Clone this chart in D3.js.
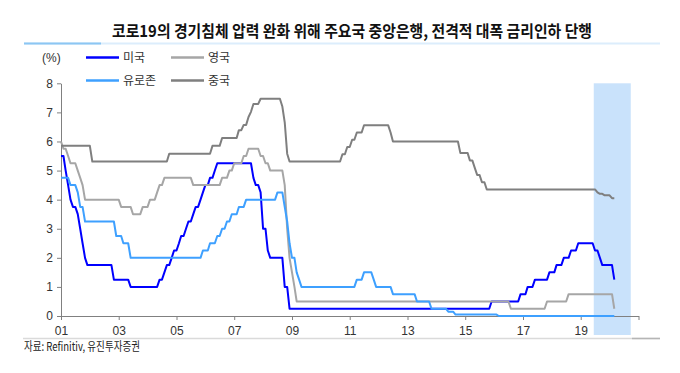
<!DOCTYPE html>
<html>
<head>
<meta charset="utf-8">
<script src="https://cdn.jsdelivr.net/npm/d3@7"></script>
<style>
    body { margin: 0; background: #fff; }
    svg { display: block; }
    .axis text { font-family: "Liberation Sans", Arial, sans-serif; font-size: 12px; fill: #333; }
    .axis path, .axis line { stroke: #808080; }
    .kr { font-family: "Noto Sans CJK KR", sans-serif; }
</style>
</head>
<body>
<svg id="chart"></svg>
<script>
const width = 680;
const height = 373;

// policy rates, [month the new rate shows, rate %]
const usRate = [
    ["2001-01", 5.5], ["2001-03", 5.0], ["2001-04", 4.5], ["2001-05", 4.0], ["2001-06", 3.75],
    ["2001-08", 3.5], ["2001-09", 3.0], ["2001-10", 2.5], ["2001-11", 2.0], ["2001-12", 1.75],
    ["2002-11", 1.25], ["2003-06", 1.0], ["2004-06", 1.25], ["2004-08", 1.5], ["2004-09", 1.75],
    ["2004-11", 2.0], ["2004-12", 2.25], ["2005-02", 2.5], ["2005-03", 2.75], ["2005-05", 3.0],
    ["2005-06", 3.25], ["2005-08", 3.5], ["2005-09", 3.75], ["2005-11", 4.0], ["2005-12", 4.25],
    ["2006-01", 4.5], ["2006-03", 4.75], ["2006-05", 5.0], ["2006-06", 5.25], ["2007-09", 4.75],
    ["2007-10", 4.5], ["2007-12", 4.25], ["2008-01", 3.0], ["2008-03", 2.25], ["2008-04", 2.0],
    ["2008-10", 1.0], ["2008-12", 0.25], ["2015-12", 0.5], ["2016-12", 0.75], ["2017-03", 1.0],
    ["2017-06", 1.25], ["2017-12", 1.5], ["2018-03", 1.75], ["2018-06", 2.0], ["2018-09", 2.25],
    ["2018-12", 2.5], ["2019-07", 2.25], ["2019-09", 2.0], ["2019-10", 1.75], ["2020-03", 1.25]
];
const ukRate = [
    ["2001-01", 6.0], ["2001-02", 5.75], ["2001-04", 5.5], ["2001-05", 5.25], ["2001-08", 5.0],
    ["2001-09", 4.75], ["2001-10", 4.5], ["2001-11", 4.0], ["2003-02", 3.75], ["2003-07", 3.5],
    ["2003-11", 3.75], ["2004-02", 4.0], ["2004-05", 4.25], ["2004-06", 4.5], ["2004-08", 4.75],
    ["2005-08", 4.5], ["2006-08", 4.75], ["2006-11", 5.0], ["2007-01", 5.25], ["2007-05", 5.5],
    ["2007-07", 5.75], ["2007-12", 5.5], ["2008-02", 5.25], ["2008-04", 5.0], ["2008-10", 4.5],
    ["2008-11", 3.0], ["2008-12", 2.0], ["2009-01", 1.5], ["2009-02", 1.0], ["2009-03", 0.5],
    ["2016-08", 0.25], ["2017-11", 0.5], ["2018-08", 0.75], ["2020-03", 0.25]
];
const euroRate = [
    ["2001-01", 4.75], ["2001-05", 4.5], ["2001-08", 4.25], ["2001-09", 3.75], ["2001-11", 3.25],
    ["2002-12", 2.75], ["2003-03", 2.5], ["2003-06", 2.0], ["2005-12", 2.25], ["2006-03", 2.5],
    ["2006-06", 2.75], ["2006-08", 3.0], ["2006-10", 3.25], ["2006-12", 3.5], ["2007-03", 3.75],
    ["2007-06", 4.0], ["2008-07", 4.25], ["2008-10", 3.75], ["2008-11", 3.25], ["2008-12", 2.5],
    ["2009-01", 2.0], ["2009-03", 1.5], ["2009-04", 1.25], ["2009-05", 1.0], ["2011-04", 1.25],
    ["2011-07", 1.5], ["2011-11", 1.25], ["2011-12", 1.0], ["2012-07", 0.75], ["2013-05", 0.5],
    ["2013-11", 0.25], ["2014-06", 0.15], ["2014-09", 0.05], ["2016-03", 0.0]
];
const chinaRate = [
    ["2001-01", 5.85], ["2002-02", 5.31], ["2004-10", 5.58], ["2006-04", 5.85], ["2006-08", 6.12],
    ["2007-03", 6.39], ["2007-05", 6.57], ["2007-07", 6.84], ["2007-08", 7.02], ["2007-09", 7.29],
    ["2007-12", 7.47], ["2008-09", 7.2], ["2008-10", 6.66], ["2008-11", 5.58], ["2008-12", 5.31],
    ["2010-10", 5.56], ["2010-12", 5.81], ["2011-02", 6.06], ["2011-04", 6.31], ["2011-07", 6.56],
    ["2012-06", 6.31], ["2012-07", 6.0], ["2014-11", 5.6], ["2015-03", 5.35], ["2015-05", 5.1],
    ["2015-06", 4.85], ["2015-08", 4.6], ["2015-10", 4.35], ["2019-08", 4.25], ["2019-09", 4.2],
    ["2019-11", 4.15], ["2020-02", 4.05]
];
const lastMonth = "2020-03";
const highlight = ["2019-06-15", "2020-09-25"];

const seriesNames = ["미국", "영국", "유로존", "중국"];
const seriesColors = ["#0000ff", "#a6a6a6", "#3ea0ff", "#7f7f7f"];
const yTicks = [0, 1, 2, 3, 4, 5, 6, 7, 8];
const xTickYears = [2001, 2003, 2005, 2007, 2009, 2011, 2013, 2015, 2017, 2019, 2021];

const title = "코로19의 경기침체 압력 완화 위해 주요국 중앙은행, 전격적 대폭 금리인하 단행";
const source = "자료: Refinitiv, 유진투자증권";

const parseMonth = d3.timeParse("%Y-%m");
const parseDay = d3.timeParse("%Y-%m-%d");

const svg = d3.select("#chart")
    .attr("width", width)
    .attr("height", height);

const x = d3.scaleTime()
    .domain([new Date(2001, 0, 1), new Date(2021, 0, 1)])
    .range([61, 638.5]);

const y = d3.scaleLinear()
    .domain([0, 8])
    .range([316, 83.3]);

// title + rule under it
svg.append("text")
    .attr("class", "kr")
    .attr("x", 112)
    .attr("y", 37)
    .attr("textLength", 480)
    .attr("lengthAdjust", "spacingAndGlyphs")
    .style("font-size", "16px")
    .style("font-weight", "bold")
    .style("fill", "#111")
    .text(title);

svg.append("line")
    .attr("x1", 24).attr("x2", 660)
    .attr("y1", 43.5).attr("y2", 43.5)
    .attr("stroke", "#dcedfc")
    .attr("stroke-width", 2);
svg.append("line")
    .attr("x1", 24).attr("x2", 101)
    .attr("y1", 43.5).attr("y2", 43.5)
    .attr("stroke", "#8cc6f3")
    .attr("stroke-width", 2);

// shaded period
svg.append("rect")
    .attr("x", x(parseDay(highlight[0])))
    .attr("y", y(8))
    .attr("width", x(parseDay(highlight[1])) - x(parseDay(highlight[0])))
    .attr("height", 335 - y(8))
    .attr("fill", "#c9e2fb");

// axes
svg.append("g")
    .attr("class", "axis")
    .attr("transform", `translate(${x.range()[0]},0)`)
    .call(d3.axisLeft(y).tickValues(yTicks).tickSize(4).tickSizeOuter(0).tickPadding(4));

const yearFmt = d3.timeFormat("%y");
svg.append("g")
    .attr("class", "axis")
    .attr("transform", `translate(0,${y(0)})`)
    .call(d3.axisBottom(x)
        .tickValues(xTickYears.map(yr => new Date(yr, 0, 1)))
        .tickFormat(d => d.getFullYear() < 2021 ? yearFmt(d) : "")
        .tickSize(4)
        .tickSizeOuter(0)
        .tickPadding(6));

// monthly points: old rate held until the month before, new rate at its month
function stepPoints(series) {
    const pts = [];
    series.forEach(([m, v], i) => {
        const d = parseMonth(m);
        if (i > 0) pts.push([d3.timeMonth.offset(d, -1), series[i - 1][1]]);
        pts.push([d, v]);
    });
    pts.push([parseMonth(lastMonth), series[series.length - 1][1]]);
    return pts;
}

const line = d3.line()
    .x(d => x(d[0]))
    .y(d => y(d[1]));

const allSeries = [usRate, ukRate, euroRate, chinaRate];

svg.append("g")
    .selectAll("path")
    .data(allSeries)
    .join("path")
    .attr("d", d => line(stepPoints(d)))
    .attr("fill", "none")
    .attr("stroke", (d, i) => seriesColors[i])
    .attr("stroke-width", 2)
    .attr("stroke-linejoin", "round");

// legend
svg.append("text")
    .attr("x", 42)
    .attr("y", 61.5)
    .style("font-family", "Liberation Sans, sans-serif")
    .style("font-size", "12px")
    .style("fill", "#333")
    .text("(%)");

const legend = svg.append("g")
    .selectAll("g")
    .data(seriesNames)
    .join("g")
    .attr("transform", (d, i) => `translate(${i % 2 === 0 ? 86 : 171},${i < 2 ? 57.5 : 80.5})`);

legend.append("line")
    .attr("x1", 0).attr("x2", 33)
    .attr("stroke", (d, i) => seriesColors[i])
    .attr("stroke-width", 2.5);

legend.append("text")
    .attr("class", "kr")
    .attr("x", 37)
    .attr("y", 4.5)
    .style("font-size", "12px")
    .style("fill", "#333")
    .text(d => d);

// footer
svg.append("line")
    .attr("x1", 23).attr("x2", 660)
    .attr("y1", 338.5).attr("y2", 338.5)
    .attr("stroke", "#dadada")
    .attr("stroke-width", 1.5);
svg.append("line")
    .attr("x1", 632).attr("x2", 660)
    .attr("y1", 338.5).attr("y2", 338.5)
    .attr("stroke", "#b5b5b5")
    .attr("stroke-width", 1.5);

svg.append("text")
    .attr("class", "kr")
    .attr("x", 24)
    .attr("y", 351)
    .attr("textLength", 116)
    .attr("lengthAdjust", "spacingAndGlyphs")
    .style("font-size", "12px")
    .style("fill", "#222")
    .text(source);
</script>
</body>
</html>
